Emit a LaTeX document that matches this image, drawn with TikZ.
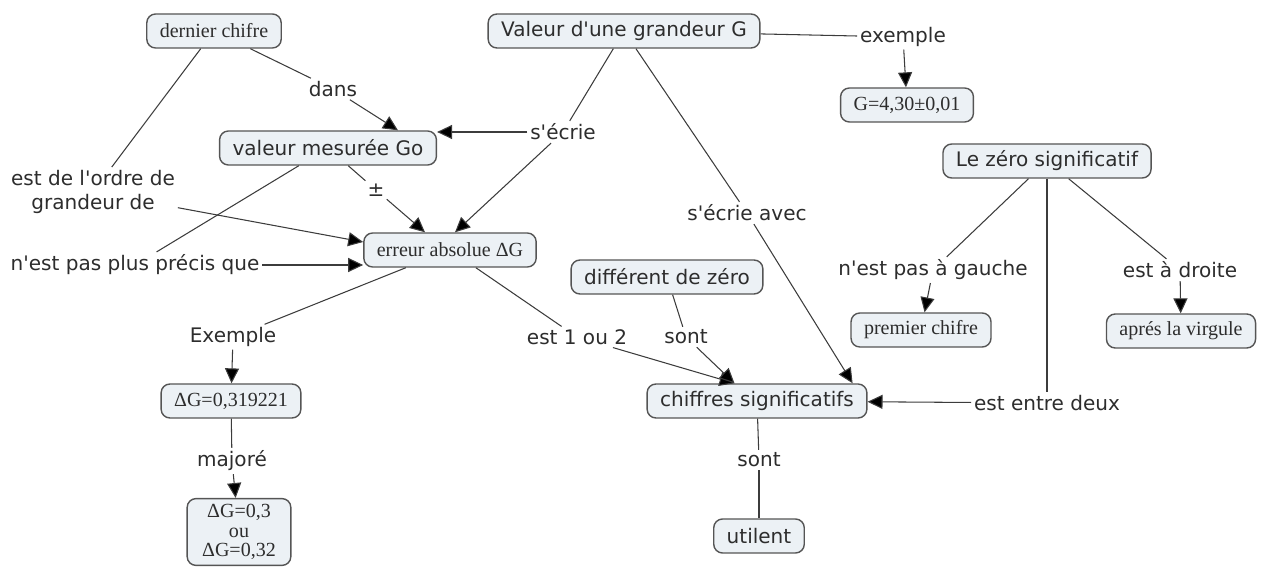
\documentclass[tikz,border=0pt]{standalone}
\usepackage{fontspec}
\setmainfont{DejaVu Sans}
\newfontfamily\timesfont{Liberation Serif}
\usepackage{tikz}
\usetikzlibrary{arrows.meta}
\definecolor{boxfill}{RGB}{236,241,245}
\definecolor{boxline}{RGB}{85,85,85}
\definecolor{txt}{RGB}{45,45,45}
\definecolor{lien}{RGB}{60,60,60}

\begin{document}
\begin{tikzpicture}[x=0.02cm,y=-0.02cm,
  concept/.style={draw=boxline,fill=boxfill,rounded corners=5pt,line width=0.8pt,text=txt,font=\fontsize{11.4}{13}\selectfont,minimum height=0.68cm,inner xsep=0.26cm},
  conceptt/.style={concept,font=\fontsize{11.4}{13}\timesfont},
  mot/.style={fill=white,text=txt,font=\fontsize{11.4}{14}\selectfont,inner sep=1.5pt},
  trait/.style={draw=lien,line width=0.6pt},
  fleche/.style={trait,-{Triangle[length=8.5pt,width=8pt,fill=black]}}]
\useasboundingbox (0,0) rectangle (1263,570);
\node[conceptt] (dernier) at (214,31) {dernier chifre};
\node[concept] (valeur) at (624,31) {Valeur d\textquotesingle une grandeur G};
\node[conceptt] (gex) at (907,105) {G=4,30±0,01};
\node[concept] (mesuree) at (328,148) {valeur mesurée Go};
\node[concept] (zero) at (1047,161) {Le zéro significatif};
\node[conceptt] (erreur) at (450,250) {erreur absolue ΔG};
\node[concept] (different) at (667,277) {différent de zéro};
\node[conceptt] (premier) at (921,330) {premier chifre};
\node[conceptt] (virgule) at (1181,331) {aprés la virgule};
\node[conceptt] (dg) at (231,401) {ΔG=0,319221};
\node[concept] (chiffres) at (757,401) {chiffres significatifs};
\node[conceptt,align=center,font=\fontsize{11.4}{11}\timesfont,inner xsep=0.3cm] (dgmaj) at (239,532) {ΔG=0,3\\ou\\ΔG=0,32};
\node[concept] (utilent) at (759,536) {utilent};
\node[mot] (dans) at (333,89) {dans};
\node[mot] (ecrie) at (563,132) {s\textquotesingle écrie};
\node[mot] (exemple) at (903,37) {exemple};
\node[mot] (pm) at (376,190) {±};
\node[mot,align=center] (ordre) at (93,192) {est de l\textquotesingle ordre de\\grandeur de};
\node[mot] (precis) at (135,265) {n\textquotesingle est pas plus précis que};
\node[mot] (ecrieavec) at (747,213) {s\textquotesingle écrie avec};
\node[mot] (gauche) at (933,270) {n\textquotesingle est pas à gauche};
\node[mot] (droite) at (1180,270) {est à droite};
\node[mot] (exemple2) at (233,337) {Exemple};
\node[mot] (estun) at (577,337) {est 1 ou 2};
\node[mot] (sont) at (686,337) {sont};
\node[mot] (entre) at (1047,403) {est entre deux};
\node[mot] (majore) at (232,461) {majoré};
\node[mot] (sont2) at (759,460) {sont};
\draw[trait] (dernier) -- (dans);
\draw[fleche] (dans) -- ([xshift=1.4cm]mesuree.north);
\draw[trait] (dernier) -- (ordre);
\draw[fleche] (ordre) -- ([yshift=0.16cm]erreur.west);
\draw[trait] (valeur) -- (ecrie);
\draw[fleche] (ecrie) -- (ecrie -| mesuree.east);
\draw[fleche] (ecrie) -- ([xshift=0.1cm]erreur.north);
\draw[trait] (mesuree) -- (pm);
\draw[fleche] (pm) -- ([xshift=-0.5cm]erreur.north);
\draw[trait] (mesuree) -- (precis);
\draw[fleche] (precis) -- (precis -| erreur.west);
\draw[trait] (valeur) -- (ecrieavec);
\draw[fleche] (ecrieavec) -- ([xshift=-0.3cm]chiffres.north east);
\draw[trait] (valeur) -- (exemple);
\draw[fleche] (exemple) -- (gex);
\draw[trait] (erreur) -- (exemple2);
\draw[fleche] (exemple2) -- (dg);
\draw[trait] (dg) -- (majore);
\draw[fleche] (majore) -- (dgmaj);
\draw[trait] (erreur) -- (estun);
\draw[fleche] (estun) -- ([xshift=-0.45cm]chiffres.north);
\draw[trait] (different) -- (sont);
\draw[fleche] (sont) -- ([xshift=-0.45cm]chiffres.north);
\draw[trait] (chiffres) -- (sont2);
\draw[trait] (sont2) -- (utilent);
\draw[trait] (zero) -- (gauche);
\draw[fleche] (gauche) -- (premier);
\draw[trait] (zero) -- (droite);
\draw[fleche] (droite) -- (virgule);
\draw[trait] (zero) -- (entre);
\draw[fleche] (entre) -- (chiffres);
\end{tikzpicture}
\end{document}
